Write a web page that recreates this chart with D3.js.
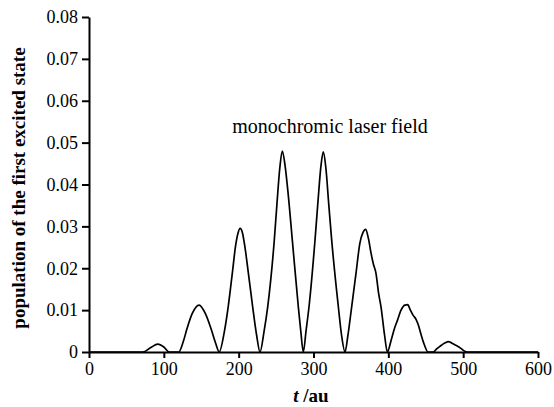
<!DOCTYPE html>
<html>
<head>
<meta charset="utf-8">
<script src="https://cdn.jsdelivr.net/npm/d3@7"></script>
<style>
  body { margin: 0; background: #fff; }
  svg text { font-family: "Liberation Serif", "DejaVu Serif", serif; fill: #000; }
</style>
</head>
<body>
<svg id="chart" width="554" height="407"></svg>
<script>
// time (au) and population, lobe by lobe
var tValues = [0, 72, 82, 92, 100, 107, 120,
  126, 131, 138, 147, 156, 163, 169, 174,
  181, 186, 191.5, 196, 199, 202, 205, 208, 213, 218.7, 224, 228.5,
  234, 238.8, 247.6, 251, 255, 258.3, 262, 266, 271.7, 279.7, 283, 286.4,
  290, 294, 302, 306, 310, 313.1, 316.5, 320.5, 324.3, 333.2, 337.5, 342.1,
  346, 351, 356.8, 362, 366, 369.7, 373.5, 376.9, 380, 383.5, 387, 390.2, 395, 398.7,
  404, 408, 412, 417, 422, 426, 429, 433, 437, 440, 444, 448, 453,
  460, 465, 470, 476, 480, 485, 490, 496, 500, 505, 600]
var population = [0, 0, 0.0010, 0.0019, 0.0012, 0, 0,
  0.0025, 0.0056, 0.0092, 0.0112, 0.0090, 0.0056, 0.0022, 0,
  0.0050, 0.0108, 0.0188, 0.0255, 0.0283, 0.0295, 0.0285, 0.0255, 0.0188, 0.0108, 0.0040, 0,
  0.0050, 0.0108, 0.0267, 0.0350, 0.0440, 0.0480, 0.0445, 0.0380, 0.0267, 0.0108, 0.0050, 0,
  0.0050, 0.0108, 0.0267, 0.0360, 0.0445, 0.0478, 0.0440, 0.0350, 0.0267, 0.0108, 0.0040, 0,
  0.0040, 0.0108, 0.0188, 0.0260, 0.0285, 0.0293, 0.0270, 0.0236, 0.0210, 0.0188, 0.0140, 0.0108, 0.0040, 0,
  0.0030, 0.0055, 0.0075, 0.0100, 0.0112, 0.0113, 0.0102, 0.0088, 0.0078, 0.0065, 0.0040, 0.0018, 0,
  0, 0.0008, 0.0015, 0.0022, 0.0025, 0.0021, 0.0016, 0.0010, 0.0004, 0, 0]

var xTicks = [0, 100, 200, 300, 400, 500, 600]
var yTicks = [0, 0.01, 0.02, 0.03, 0.04, 0.05, 0.06, 0.07, 0.08]

var xLabel = 'au'
var yLabel = 'population of the first excited state'
var annotation = 'monochromic laser field'

var serif = '"Liberation Serif", "DejaVu Serif", serif'

var svg = d3.select('#chart')

var x = d3.scaleLinear().domain([0, 600]).range([89, 538])
var y = d3.scaleLinear().domain([0, 0.08]).range([352, 17])

var data = tValues.map((t, i) => ({ t: t, p: population[i] }))

var xAxis = svg.append('g')
    .attr('transform', 'translate(0,' + y(0) + ')')
    .call(d3.axisBottom(x).tickValues(xTicks).tickSize(6).tickSizeOuter(0).tickPadding(4))
var yAxis = svg.append('g')
    .attr('transform', 'translate(' + x(0) + ',0)')
    .call(d3.axisLeft(y).tickValues(yTicks).tickSize(7).tickSizeOuter(0).tickPadding(4)
      .tickFormat(d => d === 0 ? '0' : d3.format('.2f')(d)))

;[xAxis, yAxis].forEach(function (g) {
  g.attr('font-family', serif).attr('font-size', 18)
  g.select('.domain').attr('stroke', '#000').attr('stroke-width', 2)
  g.selectAll('.tick line').attr('stroke', '#000').attr('stroke-width', 2)
  g.selectAll('.tick text').attr('fill', '#000')
})

var line = d3.line()
    .x(d => x(d.t))
    .y(d => y(d.p))
    .curve(d3.curveMonotoneX)

svg.append('path')
    .datum(data)
    .attr('fill', 'none')
    .attr('stroke', '#000')
    .attr('stroke-width', 1.7)
    .attr('d', line)

// axis titles
svg.append('text')
    .attr('transform', 'translate(25,188) rotate(-90)')
    .attr('text-anchor', 'middle')
    .attr('font-family', serif)
    .attr('font-size', 19)
    .attr('font-weight', 'bold')
    .text(yLabel)

var xt = svg.append('text')
    .attr('x', 311)
    .attr('y', 402)
    .attr('text-anchor', 'middle')
    .attr('font-family', serif)
    .attr('font-size', 19)
    .attr('font-weight', 'bold')
xt.append('tspan').attr('font-style', 'italic').text('t')
xt.append('tspan').text(' /' + xLabel)

svg.append('text')
    .attr('x', 330)
    .attr('y', 133)
    .attr('text-anchor', 'middle')
    .attr('font-family', serif)
    .attr('font-size', 20)
    .text(annotation)
</script>
</body>
</html>
